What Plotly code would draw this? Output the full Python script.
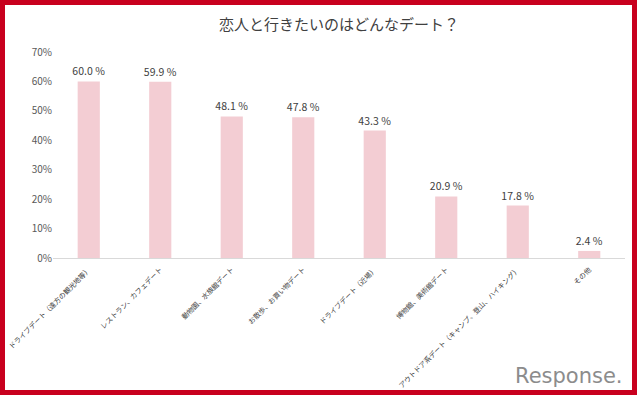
import plotly.graph_objects as go

categories = [
    "ドライブデート（遠方の観光地等）",
    "レストラン、カフェデート",
    "動物園、水族館デート",
    "お散歩、お買い物デート",
    "ドライブデート（近場）",
    "博物館、美術館デート",
    "アウトドア系デート（キャンプ、登山、ハイキング）",
    "その他",
]
values = [60.0, 59.9, 48.1, 47.8, 43.3, 20.9, 17.8, 2.4]
y_ticks = [0, 10, 20, 30, 40, 50, 60, 70]
y_tick_labels = ["0%", "10%", "20%", "30%", "40%", "50%", "60%", "70%"]
title_text = "恋人と行きたいのはどんなデート？"

W, H = 640, 398
L, R, T, B = 53, 15, 52, 140
pw, ph = W - L - R, H - T - B

def px(x):
    return (x - L) / pw

def py(y):
    return (H - B - y) / ph

font = "Noto Sans CJK JP, Noto Sans, sans-serif"

fig = go.Figure(go.Bar(
    x=categories, y=values,
    marker=dict(color="#f3cdd3", line=dict(width=0)),
    texttemplate="%{y:.1f} %", textposition="outside",
    constraintext="none",
    textfont=dict(size=10.5, color="#404040", family=font),
    cliponaxis=False,
))

fig.update_layout(
    width=W, height=H,
    margin=dict(l=L, r=R, t=T, b=B, autoexpand=False),
    paper_bgcolor="white", plot_bgcolor="white",
    bargap=0.69,
    showlegend=False,
    font=dict(family=font),
    title=dict(text=title_text, x=0.5, xanchor="center", y=1 - 25 / H,
               yanchor="middle", xref="paper",
               font=dict(size=15, color="#404040", family=font)),
    xaxis=dict(tickangle=-45, tickfont=dict(size=7, color="#404040", family=font),
               showline=True, linecolor="#d9d9d9", linewidth=1, ticks="",
               showgrid=False, automargin=False, ticklabelstandoff=4),
    yaxis=dict(range=[0, 70], tickvals=y_ticks, ticktext=y_tick_labels,
               tickfont=dict(size=10, color="#595959", family=font),
               showgrid=False, zeroline=False, showline=False, ticks="",
               automargin=False),
    shapes=[dict(type="rect", xref="paper", yref="paper",
                 x0=px(2.5), x1=px(634.5), y0=py(392.5), y1=py(2.5),
                 line=dict(color="#c8001e", width=5), fillcolor="rgba(0,0,0,0)")],
    annotations=[dict(text="Response.", xref="paper", yref="paper",
                      x=px(625), y=py(376), xanchor="right", yanchor="middle",
                      showarrow=False,
                      font=dict(size=21, color="#8c8c8c", family="DejaVu Sans"))],
)

fig.write_html("out.html", config={"displayModeBar": False},
               post_script="document.body.style.margin='0';document.body.style.padding='0';")
